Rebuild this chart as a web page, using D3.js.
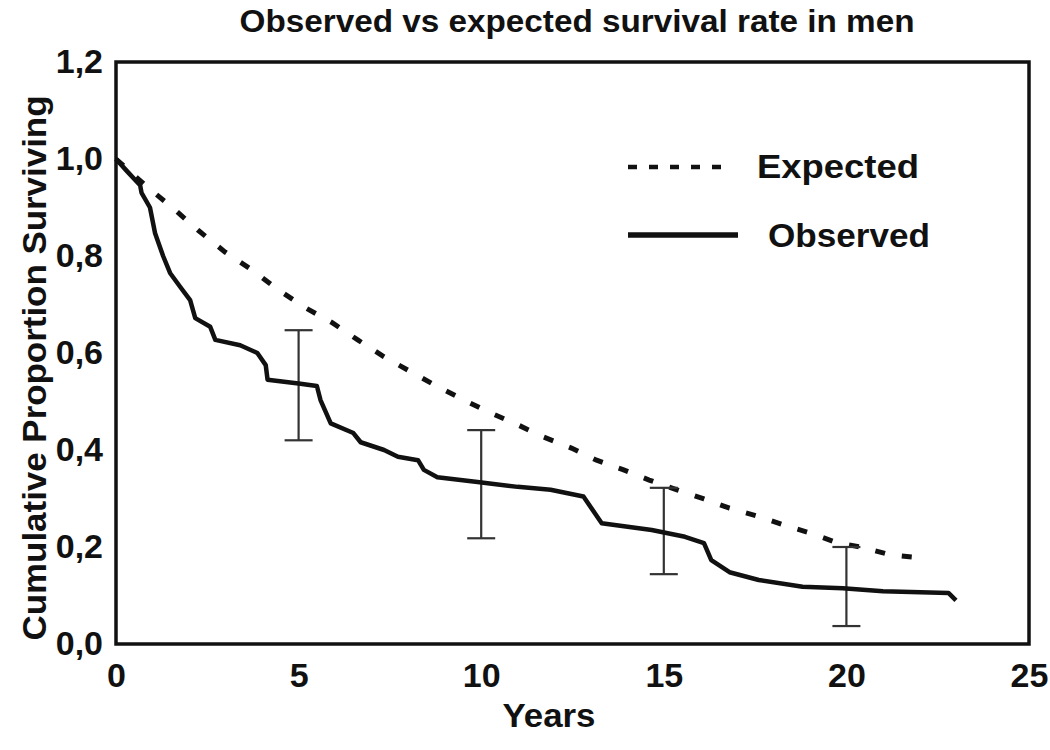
<!DOCTYPE html>
<html>
<head>
<meta charset="utf-8">
<script src="https://cdn.jsdelivr.net/npm/d3@7/dist/d3.min.js"></script>
<style>
  html, body { margin: 0; padding: 0; background: #fff; }
  svg text { font-family: "Liberation Sans", Arial, sans-serif; font-weight: bold; fill: #111; }
</style>
</head>
<body>
<svg id="chart" width="1050" height="750"></svg>
<script>
// ---- Data ----
const obsYears = [0, 0.3, 0.66, 0.7, 0.93, 1.07, 1.29, 1.48, 1.76, 2.03, 2.17, 2.58, 2.72, 3.4, 3.87, 4.1, 4.15, 5.0, 5.5, 5.6, 5.88, 6.5, 6.7, 7.34, 7.72, 8.27, 8.43, 8.8, 9.9, 11.0, 11.9, 12.8, 13.3, 14.67, 15.58, 16.1, 16.3, 16.8, 17.6, 18.8, 19.9, 21.0, 22.8, 23.0];
const obsValues = [1.0, 0.975, 0.946, 0.93, 0.90, 0.847, 0.80, 0.765, 0.736, 0.709, 0.672, 0.654, 0.627, 0.616, 0.60, 0.575, 0.545, 0.537, 0.532, 0.503, 0.455, 0.435, 0.416, 0.40, 0.386, 0.379, 0.359, 0.344, 0.334, 0.324, 0.318, 0.304, 0.249, 0.235, 0.221, 0.208, 0.173, 0.148, 0.132, 0.118, 0.115, 0.109, 0.105, 0.09];

const expYears = [0, 0.8, 1.54, 2.25, 2.99, 3.73, 4.45, 5.19, 5.93, 6.62, 7.34, 8.08, 8.82, 9.53, 10.27, 11.0, 11.7, 12.47, 13.16, 13.9, 14.6, 15.36, 16.1, 16.8, 17.55, 18.3, 19.0, 19.7, 20.5, 21.2, 22.0];
const expValues = [1.0, 0.946, 0.90, 0.853, 0.808, 0.771, 0.73, 0.693, 0.662, 0.627, 0.592, 0.561, 0.53, 0.503, 0.476, 0.452, 0.427, 0.404, 0.379, 0.359, 0.338, 0.318, 0.299, 0.28, 0.264, 0.245, 0.229, 0.21, 0.198, 0.184, 0.178];

const errYears = [5, 10, 15, 20];
const errLower = [0.42, 0.218, 0.144, 0.037];
const errUpper = [0.647, 0.441, 0.322, 0.2];

const xTicks = [0, 5, 10, 15, 20, 25];
const yTicks = [0, 0.2, 0.4, 0.6, 0.8, 1.0, 1.2];

const titleText = "Observed vs expected survival rate in men";
const xLabel = "Years";
const yLabel = "Cumulative Proportion Surviving";
const legendLabels = ["Expected", "Observed"];

// ---- Layout ----
const svg = d3.select("#chart");
const mLeft = 116, mRight = 1029, mTop = 62, mBottom = 644;

const x = d3.scaleLinear().domain([0, 25]).range([mLeft, mRight]);
const y = d3.scaleLinear().domain([0, 1.2]).range([mBottom, mTop]);

// Title
svg.append("text")
  .attr("x", 577).attr("y", 32)
  .attr("text-anchor", "middle")
  .attr("font-size", 31)
  .attr("textLength", 675).attr("lengthAdjust", "spacingAndGlyphs")
  .text(titleText);

// Axes (labels only)
const fmt = d => d.toFixed(1).replace(".", ",");
const xAxis = svg.append("g")
  .attr("transform", `translate(0,${mBottom})`)
  .call(d3.axisBottom(x).tickValues(xTicks).tickSize(0).tickPadding(19).tickFormat(d3.format("d")));
xAxis.select(".domain").remove();
xAxis.selectAll("text").attr("font-size", 34).style("font-family", "Liberation Sans, Arial, sans-serif").style("font-weight", "bold").attr("fill", "#111");

const yAxis = svg.append("g")
  .attr("transform", `translate(${mLeft},0)`)
  .call(d3.axisLeft(y).tickValues(yTicks).tickSize(0).tickPadding(13).tickFormat(fmt));
yAxis.select(".domain").remove();
yAxis.selectAll("text").attr("font-size", 34).style("font-family", "Liberation Sans, Arial, sans-serif").style("font-weight", "bold").attr("fill", "#111");

// Axis titles
svg.append("text")
  .attr("x", 549).attr("y", 727)
  .attr("text-anchor", "middle")
  .attr("font-size", 33)
  .attr("textLength", 93).attr("lengthAdjust", "spacingAndGlyphs")
  .text(xLabel);

svg.append("text")
  .attr("transform", "translate(46,368) rotate(-90)")
  .attr("text-anchor", "middle")
  .attr("font-size", 33)
  .attr("textLength", 545).attr("lengthAdjust", "spacingAndGlyphs")
  .text(yLabel);

// Plot frame
svg.append("rect")
  .attr("x", mLeft).attr("y", mTop)
  .attr("width", mRight - mLeft).attr("height", mBottom - mTop)
  .attr("fill", "none").attr("stroke", "#111").attr("stroke-width", 3.5);

// Expected (dashed)
const expData = expYears.map((t, i) => [t, expValues[i]]);
const obsData = obsYears.map((t, i) => [t, obsValues[i]]);
const line = d3.line().x(d => x(d[0])).y(d => y(d[1]));

svg.append("path")
  .datum(expData)
  .attr("d", line)
  .attr("fill", "none").attr("stroke", "#111")
  .attr("stroke-width", 5)
  .attr("stroke-dasharray", "10,17");

// Error bars
const capW = 14;
errYears.forEach((t, i) => {
  const g = svg.append("g").attr("stroke", "#333").attr("stroke-width", 2.2);
  g.append("line").attr("x1", x(t)).attr("x2", x(t)).attr("y1", y(errLower[i])).attr("y2", y(errUpper[i]));
  g.append("line").attr("x1", x(t) - capW).attr("x2", x(t) + capW).attr("y1", y(errLower[i])).attr("y2", y(errLower[i]));
  g.append("line").attr("x1", x(t) - capW).attr("x2", x(t) + capW).attr("y1", y(errUpper[i])).attr("y2", y(errUpper[i]));
});

// Observed (solid)
svg.append("path")
  .datum(obsData)
  .attr("d", line)
  .attr("fill", "none").attr("stroke", "#111")
  .attr("stroke-width", 4.5)
  .attr("stroke-linejoin", "round");

// Legend
const leg = svg.append("g");
leg.append("line").attr("x1", 628).attr("x2", 730).attr("y1", 167).attr("y2", 167)
  .attr("stroke", "#111").attr("stroke-width", 4.5).attr("stroke-dasharray", "9,12");
leg.append("text").attr("x", 757).attr("y", 178).attr("font-size", 33)
  .attr("textLength", 162).attr("lengthAdjust", "spacingAndGlyphs").text(legendLabels[0]);
leg.append("line").attr("x1", 628).attr("x2", 738).attr("y1", 235).attr("y2", 235)
  .attr("stroke", "#111").attr("stroke-width", 5.5);
leg.append("text").attr("x", 768).attr("y", 247).attr("font-size", 33)
  .attr("textLength", 162).attr("lengthAdjust", "spacingAndGlyphs").text(legendLabels[1]);
</script>
</body>
</html>
